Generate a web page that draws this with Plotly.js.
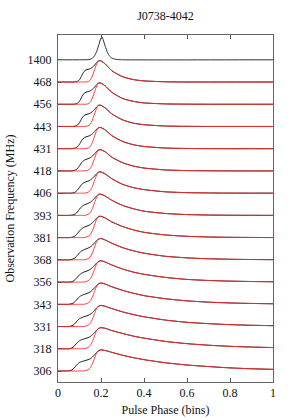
<!DOCTYPE html>
<html>
<head>
<meta charset="utf-8">
<script src="https://cdn.plot.ly/plotly-3.0.1.min.js"></script>
<style>html,body{margin:0;padding:0;background:#fff;}#chart{width:294px;height:420px;}</style>
</head>
<body>
<div id="chart"></div>
<script>
// Pulse phase grid (shared by scattered profiles)
const phase = [0,0.05,0.06,0.07,0.08,0.09,0.10,0.11,0.12,0.13,0.14,0.15,0.16,0.17,0.18,0.19,0.20,0.22,0.25,0.30,0.35,0.40,0.50,0.60,0.70,0.80,0.90,1.00];
// Phase grid for the 1400 MHz reference profile
const phase1400 = [0,0.10,0.14,0.15,0.16,0.17,0.18,0.19,0.20,0.205,0.21,0.22,0.23,0.24,0.25,0.26,0.28,0.30,1.00];
const data1400 = [0,0,0.005,0.02,0.07,0.18,0.38,0.68,0.98,1.02,0.90,0.60,0.33,0.16,0.08,0.04,0.01,0,0];

// Frequency labels, bottom to top
const freqLabels = ['306','318','331','343','356','368','381','393','406','418','431','443','456','468','1400'];

// Observed profiles (black) and scattering fits (red)
const data468  = [0,0,0,0,0.01,0.03,0.10,0.28,0.46,0.54,0.57,0.60,0.66,0.76,0.88,0.96,0.95,0.81,0.51,0.24,0.11,0.05,0.01,0,0,0,0,0];
const model468 = [0,0,0,0,0,0,0,0,0,0,0.02,0.08,0.27,0.55,0.82,0.96,0.95,0.81,0.51,0.24,0.11,0.05,0.01,0,0,0,0,0];
const data456  = [0,0,0,0,0.01,0.04,0.13,0.32,0.48,0.54,0.57,0.60,0.67,0.77,0.88,0.96,0.95,0.82,0.54,0.26,0.13,0.06,0.015,0.004,0,0,0,0];
const model456 = [0,0,0,0,0,0,0,0,0,0,0.02,0.09,0.28,0.56,0.82,0.96,0.95,0.82,0.54,0.26,0.13,0.06,0.015,0.004,0,0,0,0];
const data443  = [0,0,0,0,0.02,0.06,0.17,0.35,0.48,0.54,0.56,0.60,0.67,0.77,0.88,0.96,0.95,0.83,0.57,0.30,0.15,0.08,0.02,0.006,0,0,0,0];
const model443 = [0,0,0,0,0,0,0,0,0,0.01,0.03,0.10,0.29,0.56,0.82,0.96,0.95,0.83,0.57,0.30,0.15,0.08,0.02,0.006,0,0,0,0];
const data431  = [0,0,0,0.01,0.03,0.08,0.20,0.37,0.48,0.53,0.56,0.60,0.67,0.77,0.88,0.95,0.95,0.84,0.59,0.33,0.18,0.10,0.03,0.01,0.003,0,0,0];
const model431 = [0,0,0,0,0,0,0,0,0,0.01,0.03,0.10,0.29,0.56,0.82,0.95,0.95,0.84,0.59,0.33,0.18,0.10,0.03,0.01,0.003,0,0,0];
const data418  = [0,0,0,0.01,0.04,0.10,0.23,0.38,0.47,0.52,0.55,0.59,0.67,0.77,0.88,0.95,0.95,0.86,0.62,0.37,0.22,0.13,0.045,0.016,0.006,0.002,0,0];
const model418 = [0,0,0,0,0,0,0,0,0,0.01,0.04,0.11,0.30,0.57,0.82,0.95,0.95,0.86,0.62,0.37,0.22,0.13,0.045,0.016,0.006,0.002,0,0];
const data406  = [0,0,0,0.01,0.05,0.13,0.26,0.39,0.47,0.51,0.54,0.59,0.67,0.77,0.88,0.95,0.95,0.86,0.65,0.40,0.25,0.16,0.06,0.023,0.009,0.003,0.001,0];
const model406 = [0,0,0,0,0,0,0,0,0,0.01,0.04,0.12,0.30,0.57,0.82,0.95,0.95,0.86,0.65,0.40,0.25,0.16,0.06,0.023,0.009,0.003,0.001,0];
const data393  = [0,0,0.01,0.02,0.06,0.15,0.28,0.39,0.46,0.50,0.54,0.59,0.67,0.77,0.88,0.95,0.95,0.87,0.68,0.45,0.30,0.19,0.085,0.037,0.016,0.007,0.003,0.001];
const model393 = [0,0,0,0,0,0,0,0,0,0.01,0.05,0.12,0.31,0.57,0.82,0.95,0.95,0.87,0.68,0.45,0.30,0.19,0.085,0.037,0.016,0.007,0.003,0.001];
const data381  = [0,0,0.01,0.03,0.08,0.18,0.30,0.40,0.46,0.50,0.54,0.59,0.67,0.77,0.88,0.95,0.96,0.88,0.71,0.50,0.35,0.24,0.12,0.059,0.029,0.014,0.007,0.003];
const model381 = [0,0,0,0,0,0,0,0,0,0.02,0.05,0.13,0.31,0.57,0.82,0.95,0.96,0.88,0.71,0.50,0.35,0.24,0.12,0.059,0.029,0.014,0.007,0.003];
const data368  = [0,0,0.01,0.04,0.10,0.20,0.32,0.40,0.45,0.49,0.53,0.58,0.66,0.76,0.87,0.94,0.96,0.89,0.75,0.55,0.41,0.30,0.16,0.09,0.049,0.027,0.015,0.008];
const model368 = [0,0,0,0,0,0,0,0,0,0.02,0.05,0.13,0.31,0.58,0.82,0.94,0.96,0.89,0.75,0.55,0.41,0.30,0.16,0.09,0.049,0.027,0.015,0.008];
const data356  = [0,0,0.01,0.04,0.11,0.22,0.33,0.40,0.45,0.48,0.52,0.57,0.65,0.75,0.86,0.93,0.96,0.90,0.77,0.59,0.45,0.35,0.21,0.12,0.072,0.043,0.025,0.015];
const model356 = [0,0,0,0,0,0,0,0,0,0.02,0.06,0.14,0.32,0.58,0.82,0.93,0.96,0.90,0.77,0.59,0.45,0.35,0.21,0.12,0.072,0.043,0.025,0.015];
const data343  = [0,0,0.02,0.05,0.13,0.24,0.34,0.40,0.44,0.47,0.51,0.56,0.64,0.74,0.85,0.93,0.96,0.91,0.79,0.63,0.50,0.39,0.25,0.155,0.097,0.061,0.038,0.024];
const model343 = [0,0,0,0,0,0,0,0,0,0.02,0.06,0.14,0.32,0.58,0.82,0.93,0.96,0.91,0.79,0.63,0.50,0.39,0.25,0.155,0.097,0.061,0.038,0.024];
const data331  = [0,0,0.02,0.06,0.15,0.26,0.35,0.40,0.44,0.47,0.50,0.55,0.63,0.73,0.84,0.92,0.95,0.91,0.81,0.66,0.54,0.44,0.29,0.19,0.13,0.085,0.057,0.038];
const model331 = [0,0,0,0,0,0,0,0,0,0.02,0.06,0.15,0.32,0.58,0.82,0.92,0.95,0.91,0.81,0.66,0.54,0.44,0.29,0.19,0.13,0.085,0.057,0.038];
const data318  = [0,0,0.02,0.07,0.17,0.28,0.36,0.41,0.44,0.47,0.50,0.55,0.63,0.73,0.84,0.92,0.95,0.92,0.82,0.69,0.57,0.48,0.33,0.23,0.16,0.11,0.077,0.054];
const model318 = [0,0,0,0,0,0,0,0,0.005,0.02,0.06,0.15,0.32,0.58,0.82,0.92,0.95,0.92,0.82,0.69,0.57,0.48,0.33,0.23,0.16,0.11,0.077,0.054];
const data306  = [0,0.01,0.03,0.08,0.19,0.30,0.38,0.42,0.45,0.48,0.51,0.55,0.63,0.73,0.84,0.92,0.95,0.92,0.84,0.71,0.60,0.51,0.37,0.27,0.20,0.14,0.10,0.074];
const model306 = [0,0,0,0,0,0,0,0,0.005,0.02,0.06,0.15,0.32,0.58,0.82,0.92,0.95,0.92,0.84,0.71,0.60,0.51,0.37,0.27,0.20,0.14,0.10,0.074];

const scattered = [
  [data306, model306], [data318, model318], [data331, model331], [data343, model343],
  [data356, model356], [data368, model368], [data381, model381], [data393, model393],
  [data406, model406], [data418, model418], [data431, model431], [data443, model443],
  [data456, model456], [data468, model468]
];

const traces = [];
scattered.forEach(function(pair, k) {
  traces.push({
    x: phase, y: pair[0].map(function(v){ return v + k; }),
    type: 'scatter', mode: 'lines',
    line: {color: '#1a1a1a', width: 1.0, shape: 'spline', smoothing: 0.6},
    hoverinfo: 'skip'
  });
  traces.push({
    x: phase, y: pair[1].map(function(v){ return v + k; }),
    type: 'scatter', mode: 'lines',
    line: {color: '#ff2a2a', width: 0.9, shape: 'spline', smoothing: 0.6},
    hoverinfo: 'skip'
  });
});
traces.push({
  x: phase1400, y: data1400.map(function(v){ return v + 14; }),
  type: 'scatter', mode: 'lines',
  line: {color: '#1a1a1a', width: 0.9, shape: 'spline', smoothing: 0.6},
  hoverinfo: 'skip'
});

const font = {family: 'Liberation Serif', size: 12, color: '#111'};

const layout = {
  width: 294, height: 420,
  margin: {l: 58, r: 21, t: 35, b: 38, pad: 0},
  paper_bgcolor: '#fff', plot_bgcolor: '#fff',
  showlegend: false,
  font: font,
  title: {text: 'J0738-4042', font: font, x: 0.5, xref: 'paper', y: 1 - 16/420, yref: 'container', yanchor: 'middle'},
  xaxis: {
    range: [0, 1], tickvals: [0, 0.2, 0.4, 0.6, 0.8, 1], ticktext: ['0', '0.2', '0.4', '0.6', '0.8', '1'],
    ticks: 'inside', ticklen: 4, tickcolor: '#555', mirror: 'allticks',
    showline: true, linecolor: '#666', linewidth: 1, showgrid: false, zeroline: false,
    tickfont: font,
    title: {text: 'Pulse Phase (bins)', font: font, standoff: 6}
  },
  yaxis: {
    range: [-0.495, 15.115], tickvals: [0,1,2,3,4,5,6,7,8,9,10,11,12,13,14], ticktext: freqLabels,
    ticks: 'inside', ticklen: 3, tickcolor: '#a33', mirror: true,
    showline: true, linecolor: '#666', linewidth: 1, showgrid: false, zeroline: false,
    tickfont: font, ticklabelstandoff: 3,
    title: {text: 'Observation Frequency (MHz)', font: font, standoff: 10}
  }
};

Plotly.newPlot('chart', traces, layout, {staticPlot: true, displayModeBar: false});
</script>
</body>
</html>
